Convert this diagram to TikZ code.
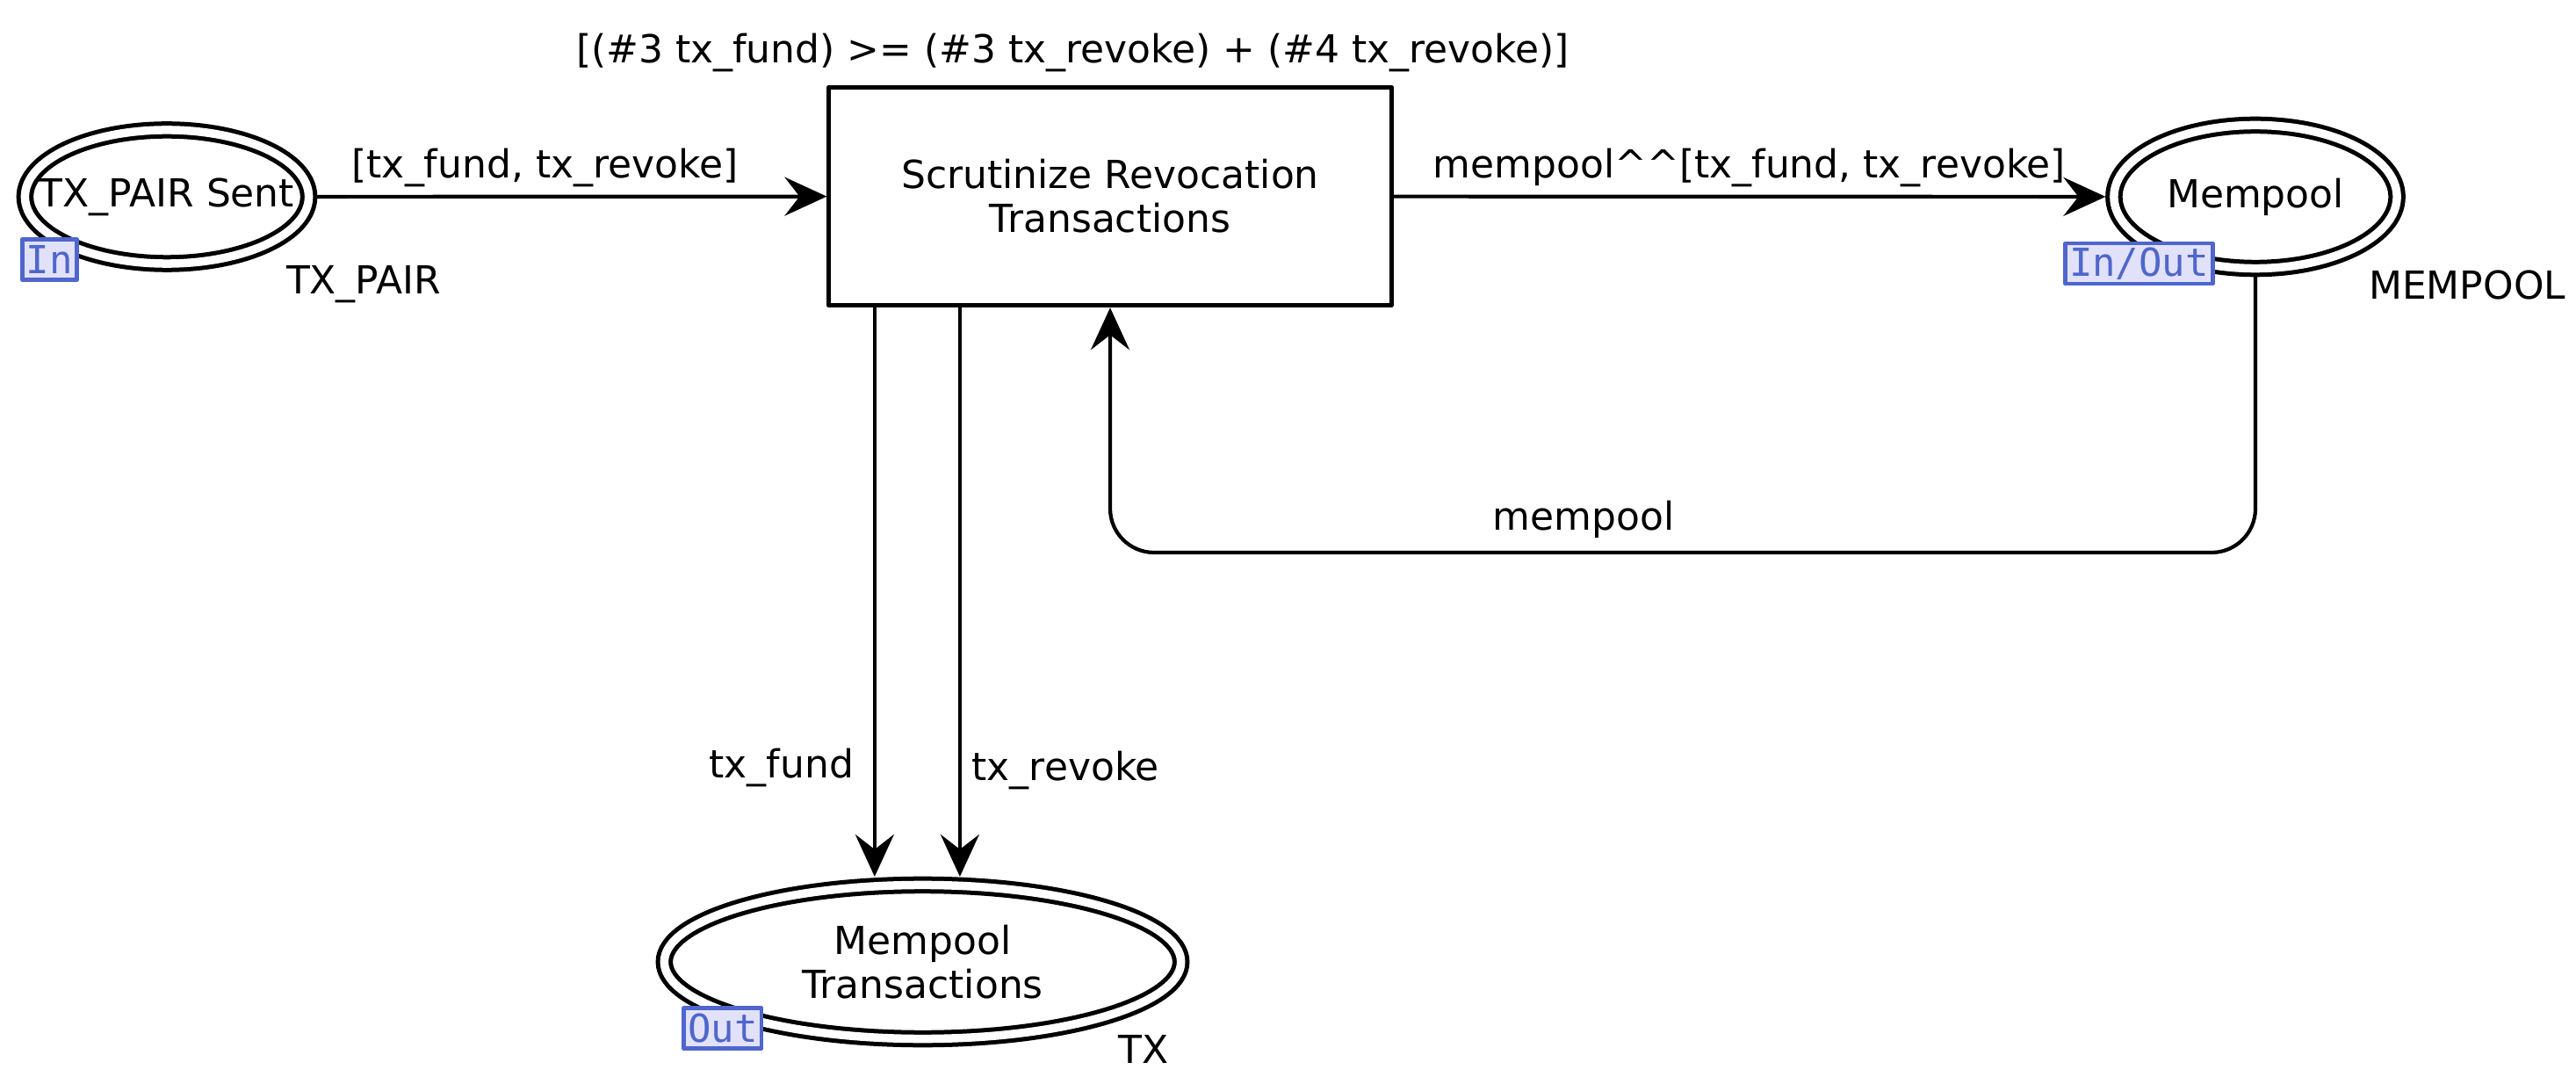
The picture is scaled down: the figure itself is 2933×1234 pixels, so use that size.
\documentclass[tikz,border=0pt]{standalone}
\usepackage{fontspec}
\setmainfont{DejaVu Sans}
\setmonofont{DejaVu Sans Mono}
\usetikzlibrary{arrows.meta,shapes.geometric}
\definecolor{tagblue}{HTML}{4F66CC}
\definecolor{tagfill}{HTML}{E1E1FA}
\newcommand{\cpnfont}{\fontsize{12.5pt}{14.2pt}\selectfont}
\newcommand{\tagfont}{\ttfamily\fontsize{12.5pt}{14pt}\selectfont}

\begin{document}
\begin{tikzpicture}[
  x={(0.01cm,0cm)},
  y={(0cm,-0.01cm)},
  line join=round,
  place/.style={draw,ellipse,double,double distance=0.095cm,line width=0.05cm,
    outer sep=0.095cm,inner sep=0pt,font=\cpnfont,align=center},
  transbox/.style={draw,rectangle,line width=0.048cm,minimum width=6.4cm,
    minimum height=2.485cm,font=\cpnfont,align=center},
  arcline/.style={draw,line width=0.042cm,
    -{Stealth[length=0.48cm,width=0.44cm,inset=0.17cm]}},
  inscr/.style={font=\cpnfont,inner sep=0.333em},
  porttag/.style={draw=tagblue,fill=tagfill,text=tagblue,line width=0.045cm,
    inner xsep=0.045cm,inner ysep=0pt,minimum height=0.46cm,font=\tagfont}
]
  \useasboundingbox (0,0) rectangle (2933,1234);

  % Places and the transition, at pixel positions of the sheet.
  \node[place,minimum width=3.23cm,minimum height=1.52cm] (sent) at (190,224)
    {\makebox[0pt]{TX\_PAIR Sent}};
  \node[transbox] (scrut) at (1264,223.5) {Scrutinize Revocation\\Transactions};
  \node[place,minimum width=3.22cm,minimum height=1.63cm] (mem) at (2568,224) {Mempool};
  \node[place,minimum width=5.88cm,minimum height=1.75cm] (mtx) at (1050.5,1095)
    {Mempool\\Transactions};

  % Colour sets and port tags.
  \node[inscr] (sentcs) at ([xshift=2.24cm,yshift=-0.995cm]sent.center) {TX\_PAIR};
  \node[inscr] (memcs) at ([xshift=2.41cm,yshift=-1cm]mem.center) {MEMPOOL};
  \node[inscr] (mtxcs) at ([xshift=2.515cm,yshift=-0.99cm]mtx.center) {TX};
  \node[porttag] (sentport) at ([xshift=-1.335cm,yshift=-0.715cm]sent.center) {In};
  \node[porttag] (memport) at ([xshift=-1.325cm,yshift=-0.76cm]mem.center) {In/Out};
  \node[porttag] (mtxport) at ([xshift=-2.275cm,yshift=-0.755cm]mtx.center) {Out};

  % Guard of the transition.
  \node[inscr] (guard) at ([xshift=-0.425cm,yshift=0.365cm]scrut.north)
    {[(\#3 tx\_fund) >= (\#3 tx\_revoke) + (\#4 tx\_revoke)]};

  % Arcs.
  \draw[arcline] (sent) -- node[inscr,pos=0.447,yshift=0.33cm] {[tx\_fund, tx\_revoke]} (scrut);
  \draw[arcline] (scrut) -- node[inscr,midway,yshift=0.33cm]
    {mempool\textasciicircum\textasciicircum[tx\_fund, tx\_revoke]} (mem);

  \coordinate (loop) at (1803,629);
  \draw[arcline,rounded corners=0.5cm] (mem.south) |- (loop)
    node[inscr,yshift=0.375cm] {mempool} -| (scrut.south);

  \coordinate (fundtop) at ([xshift=-2.68cm]scrut.south);
  \coordinate (revtop) at ([xshift=-1.71cm]scrut.south);
  \draw[arcline] (fundtop) -- node[inscr,pos=0.808,left=0.1cm] {tx\_fund} (fundtop |- mtx.north);
  \draw[arcline] (revtop) -- node[inscr,pos=0.8125,right=0cm] {tx\_revoke} (revtop |- mtx.north);
\end{tikzpicture}
\end{document}
